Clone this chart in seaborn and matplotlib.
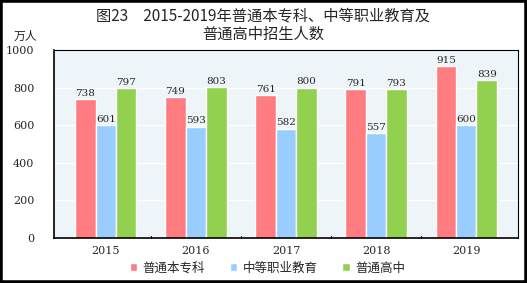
import matplotlib
matplotlib.use("Agg")
import matplotlib.pyplot as plt
import seaborn as sns
import pandas as pd
from matplotlib.patches import Rectangle

years = ["2015", "2016", "2017", "2018", "2019"]
series = ["普通本专科", "中等职业教育", "普通高中"]
undergrad = [738, 749, 761, 791, 915]
vocational = [601, 593, 582, 557, 600]
highschool = [797, 803, 800, 793, 839]
colors = ["#FF7C80", "#99CCFF", "#92D050"]
yticks = [0, 200, 400, 600, 800, 1000]

df = pd.DataFrame({
    "year": years * 3,
    "series": [series[0]] * 5 + [series[1]] * 5 + [series[2]] * 5,
    "value": undergrad + vocational + highschool,
})

sns.set_theme(style="white")
plt.rcParams['font.family'] = ['Noto Sans CJK SC', 'DejaVu Sans']

fig = plt.figure(figsize=(5.27, 2.83), dpi=100)
ax = fig.add_axes([54/527, 1-238/283, (518-54)/527, (238-50)/283])
ax.set_facecolor("#EEF5F8")

sns.barplot(data=df, x="year", y="value", hue="series", palette=colors,
            width=0.68, ax=ax, saturation=1, legend=True)

ax.set_ylim(0, 1000)
ax.set_yticks(yticks)
ax.set_yticklabels([str(t) for t in yticks], fontsize=8, family=['DejaVu Serif'])
ax.tick_params(axis='y', length=0, pad=14)
ax.tick_params(axis='x', length=0, pad=6, labelsize=8)
for lab in ax.get_xticklabels():
    lab.set_family(['DejaVu Serif'])
ax.yaxis.grid(True, color="white", linewidth=1)
ax.set_axisbelow(True)
ax.set_xlabel("")
ax.set_ylabel("")
for s in ax.spines.values():
    s.set_color("black")
    s.set_linewidth(0.8)
for s in ["left", "bottom"]:
    ax.spines[s].set_linewidth(1.2)

# category separator ticks on x axis
for i in range(1, len(years)):
    ax.plot([i - 0.5, i - 0.5], [0, 12], color="black", linewidth=0.8, clip_on=False)

for cont in ax.containers:
    ax.bar_label(cont, fontsize=7.5, padding=1, family=['DejaVu Serif'])

leg = ax.legend(loc="center", bbox_to_anchor=(0.46, -0.16), ncol=3, frameon=False,
                fontsize=9, handlelength=0.6, handleheight=0.6, handletextpad=0.4,
                columnspacing=2.0, borderpad=0)

fig.text(0.5, 0.975, "图23　2015-2019年普通本专科、中等职业教育及\n普通高中招生人数",
         ha="center", va="top", fontsize=11, linespacing=1.1)
fig.text(25/527, 1-36/283, "万人", ha="center", va="center", fontsize=8.5)

fig.patches.append(Rectangle((0, 0), 1, 1, transform=fig.transFigure, fill=False,
                             edgecolor="black", linewidth=4, zorder=10))

fig.savefig("out.png", dpi=100)
